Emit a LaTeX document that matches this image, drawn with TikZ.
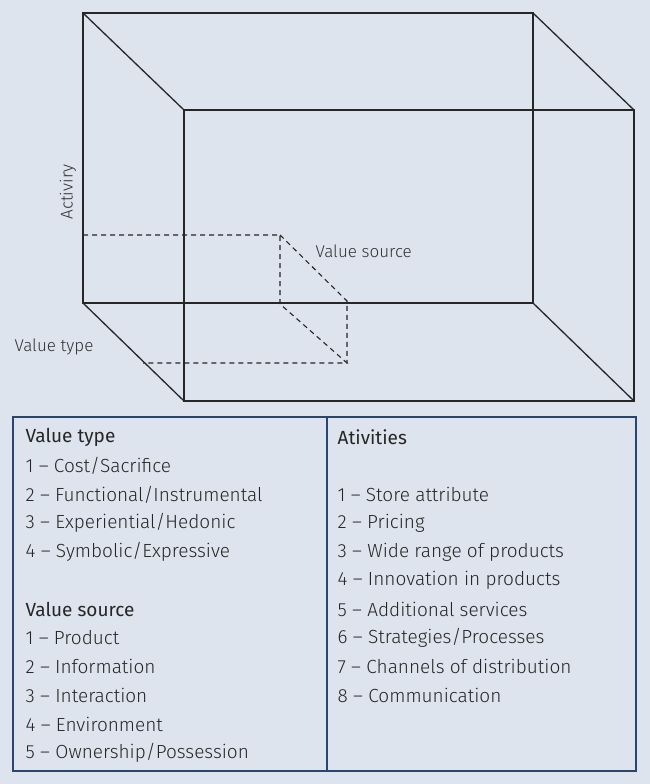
\documentclass[tikz,border=0pt]{standalone}
\usepackage{fontspec}
\setmainfont{Fira Sans Light}
\begin{document}
\begin{tikzpicture}[x=1pt,y=-1pt,line width=1.3pt,
  txt/.style={anchor=west,inner sep=0pt,font=\fontsize{19}{22}\selectfont,text=black!85},
  lbl/.style={inner sep=0pt,font=\fontsize{17}{20}\selectfont,text=black!80},
  dsh/.style={dashed,line width=1.1pt,dash pattern=on 5pt off 4pt}]
\fill[fill={rgb,255:red,221;green,228;blue,237}] (0,0) rectangle (650,784);
\useasboundingbox (0,0) rectangle (650,784);
\begin{scope}[draw=black!85]
\coordinate (b1) at (83,13); \coordinate (b2) at (533,13);
\coordinate (b3) at (533,303); \coordinate (b4) at (83,303);
\coordinate (f1) at (184,110); \coordinate (f2) at (634,110);
\coordinate (f3) at (634,401); \coordinate (f4) at (184,401);
\draw (b1)--(b2)--(b3)--(b4)--cycle;
\draw (f1)--(f2)--(f3)--(f4)--cycle;
\draw (b1)--(f1) (b2)--(f2) (b3)--(f3) (b4)--(f4);
\draw[dsh] (83,235)--(280,235)--(280,304)--(347,363)--(143,363);
\draw[dsh] (280,235)--(347,301)--(347,363);
\end{scope}
\node[lbl,rotate=90] (act) at (68,192) {Activiry};
\node[lbl,anchor=west] (vs) at (315,251) {Value source};
\node[lbl,anchor=west] (vt) at (14,347) {Value type};
\draw[line width=1.2pt,draw={rgb,255:red,40;green,70;blue,110}] (13,417) rectangle (636,771) (327,417)--(327,771);
\foreach \t [count=\i from 0] in {Value type,1 – Cost/Sacrifice,2 – Functional/Instrumental,3 – Experiential/Hedonic,4 – Symbolic/Expressive,,Value source,1 – Product,2 – Information,3 – Interaction,4 – Environment,5 – Ownership/Possession}
  \node[txt] (l\i) at (25,437+28.7*\i) {\ifnum\i=0 \fontspec{Fira Sans}\fi\ifnum\i=6 \fontspec{Fira Sans}\fi\t};
\foreach \t [count=\i from 0] in {Ativities,,1 – Store attribute,2 – Pricing,3 – Wide range of products,4 – Innovation in products,5 – Additional services,6 – Strategies/Processes,7 – Channels of distribution,8 – Communication}
  \node[txt] (r\i) at (337,437+28.7*\i) {\ifnum\i=0 \fontspec{Fira Sans}\fi\t};
\end{tikzpicture}
\end{document}
